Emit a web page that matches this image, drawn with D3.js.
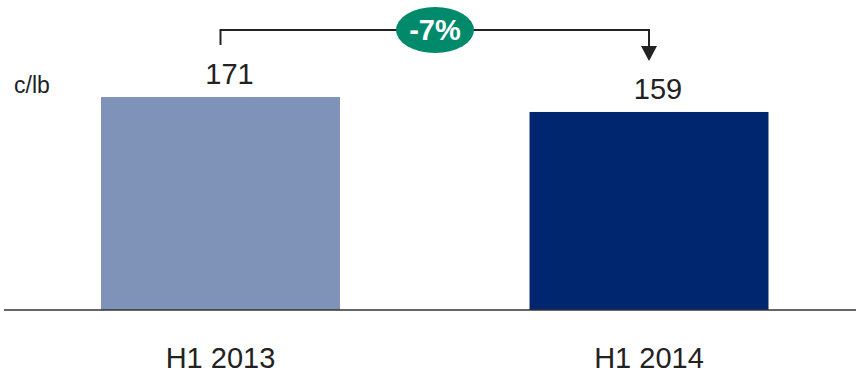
<!DOCTYPE html>
<html><head><meta charset="utf-8">
<script src="https://cdn.jsdelivr.net/npm/d3@7"></script>
<style>body{margin:0;background:#fff}svg{display:block;font-family:"Liberation Sans",Arial,sans-serif}</style>
</head><body><svg id="c" width="856" height="374"></svg>
<script>
const categories = ["H1 2013", "H1 2014"];
const values = [171, 159];
const colors = ["#7f93b9", "#00266f"];
const unitLabel = "c/lb";
const changeLabel = "-7%";

const svg = d3.select("#c");
const x = d3.scaleBand().domain(categories).range([4, 865.5]).paddingInner(0.4423).paddingOuter(0.2264);
const y = d3.scaleLinear().domain([0, 200]).range([310, 60.9]);

svg.selectAll("rect.bar").data(values).join("rect").attr("class","bar")
  .attr("x",(d,i)=>x(categories[i])).attr("width",x.bandwidth())
  .attr("y",d=>y(d)).attr("height",d=>y(0)-y(d)).attr("fill",(d,i)=>colors[i]);

// axis baseline
const axis = d3.axisBottom(x).tickSize(0).tickPadding(0);
const g = svg.append("g").attr("transform",`translate(0,${y(0)})`).call(axis);
g.select(".domain").attr("d","M4,0H856").attr("stroke","#333").attr("stroke-width",1.6);
g.selectAll(".tick text").attr("dy",null).attr("y",58).attr("font-size",29).attr("fill","#222")
  .attr("font-family","'Liberation Sans',Arial,sans-serif");

// value labels
svg.selectAll("text.val").data(values).join("text").attr("class","val")
  .attr("x",(d,i)=>x(categories[i])+x.bandwidth()/2+9).attr("y",d=>y(d)-13)
  .attr("text-anchor","middle").attr("font-size",29).attr("fill","#222").text(d=>d);

svg.append("text").attr("x",14).attr("y",93).attr("font-size",23).attr("fill","#222").text(unitLabel);

// change annotation
const ax1 = x(categories[0])+x.bandwidth()/2;
const ax2 = x(categories[1])+x.bandwidth()/2;
const aTop = 30;
svg.append("path").attr("d",`M${ax1},45V${aTop}H${ax2}V48`).attr("fill","none").attr("stroke","#222").attr("stroke-width",2);
svg.append("path").attr("d",`M${ax2-8},46L${ax2+8},46L${ax2},61Z`).attr("fill","#222");
const acx = 435;
svg.append("ellipse").attr("cx",acx).attr("cy",aTop).attr("rx",39).attr("ry",23).attr("fill","#008a6c");
svg.append("text").attr("x",acx).attr("y",aTop+10).attr("text-anchor","middle").attr("font-size",29)
  .attr("font-weight","bold").attr("fill","#fff").text(changeLabel);
</script></body></html>
